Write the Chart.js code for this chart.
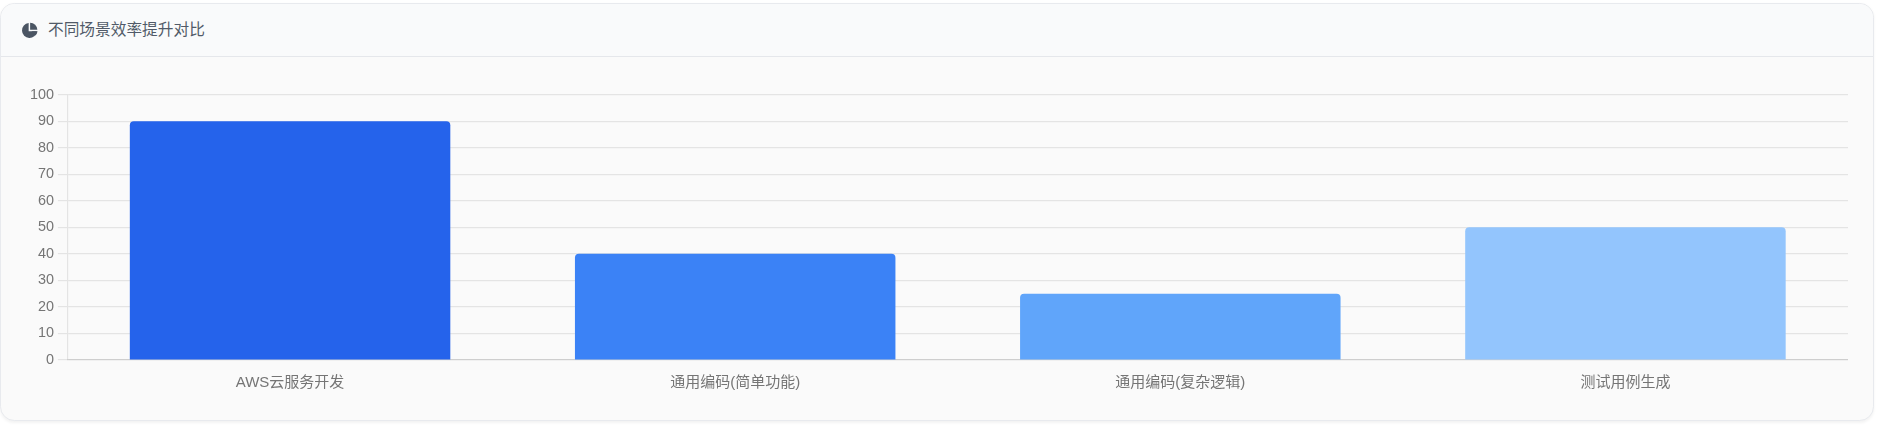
<!DOCTYPE html>
<html lang="zh"><head><meta charset="utf-8">
<script src="https://cdn.jsdelivr.net/npm/chart.js@4"></script>
<style>
html,body{margin:0;padding:0;background:#fff;overflow:hidden;width:1887px;height:426px}
#card{position:absolute;left:0;top:3px;width:1874px;height:417.5px;box-sizing:border-box;background:#fafafa;border:1.2px solid #e8eaee;border-radius:14.4px;box-shadow:0 1.2px 3px rgba(0,0,0,.05);overflow:hidden}
#head{position:absolute;left:0;top:0;right:0;height:53px;box-sizing:border-box;background:#f9fafb;border-bottom:1.2px solid #e5e7eb}
#head svg{position:absolute;left:19.5px;top:17.5px;width:17px;height:17px}
#head span{position:absolute;left:47px;top:13px;font:15.7px/24px "Noto Sans CJK SC",sans-serif;color:#515a68}
#wrap{position:absolute;left:24px;top:82px;width:1824px;height:314px}
</style></head><body>
<div id="card"><div id="head">
<svg viewBox="0 0 16 16"><path fill="#4b5563" d="M7.2 1A7 7 0 1 0 14.9 8.8H7.2Z"/><path fill="#4b5563" d="M8.6 0.6A7 7 0 0 1 15.4 7.2H8.6Z"/><path fill="#4b5563" d="M10 8.6H15.6A7 7 0 0 1 13.2 13Z"/></svg>
<span>不同场景效率提升对比</span></div></div>
<div id="wrap"><canvas id="c"></canvas></div>
<script>
const categories=["AWS云服务开发","通用编码(简单功能)","通用编码(复杂逻辑)","测试用例生成"];
const seriesValues=[90,40,25,50];
const barColors=["#2563eb","#3b82f6","#60a5fa","#93c5fd"];
const fontFamily='"Liberation Sans","Noto Sans CJK SC",sans-serif';
new Chart(document.getElementById('c'),{
 type:'bar',
 data:{labels:categories,datasets:[{data:seriesValues,backgroundColor:barColors,borderRadius:{topLeft:4,topRight:4}}]},
 options:{responsive:true,maintainAspectRatio:false,animation:false,devicePixelRatio:1,
  layout:{padding:{top:0,right:0,bottom:0,left:0}},
  plugins:{legend:{display:false},tooltip:{enabled:false}},
  scales:{
   y:{min:0,max:100,ticks:{stepSize:10,padding:4,color:'#757575',font:{size:14.4,family:fontFamily}},
      grid:{color:'rgba(0,0,0,0.085)',lineWidth:1.2,tickLength:9.6},border:{width:1.2,color:'rgba(0,0,0,0.085)'},
      afterFit(s){s.width=43.5;}},
   x:{ticks:{padding:6,color:'#757575',font:{size:15,family:fontFamily}},
      grid:{display:false},border:{width:1.2,color:'rgba(0,0,0,0.1)'},
      afterFit(s){s.height=36;}}
  }}
});
</script></body></html>
